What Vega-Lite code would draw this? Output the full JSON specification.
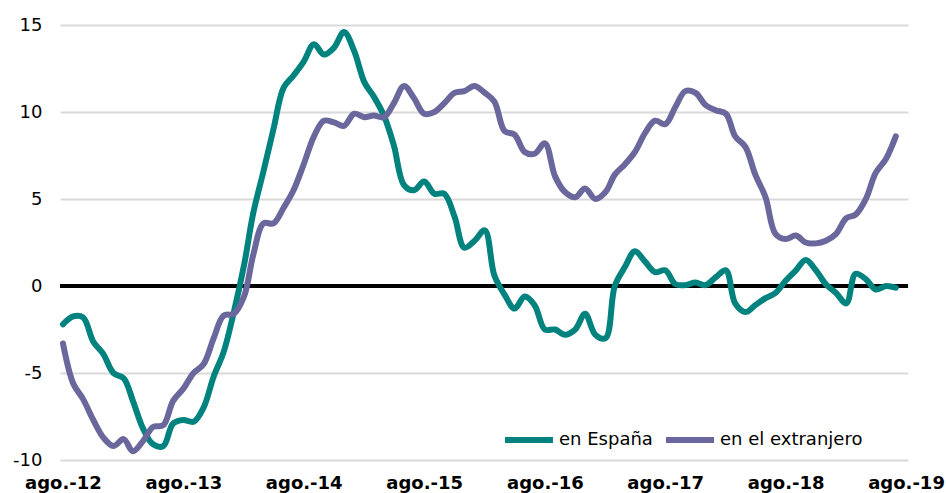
{
  "$schema": "https://vega.github.io/schema/vega-lite/v6.json",
  "width": 848,
  "height": 435,
  "autosize": "none",
  "padding": {"left": 60, "top": 25, "right": 38, "bottom": 33},
  "background": "white",
  "config": {"view": {"stroke": null}, "font": "DejaVu Sans"},
  "data": {"values": [
    {"date": "2012-08-01", "en España": -2.2, "en el extranjero": -3.3},
    {"date": "2012-09-01", "en España": -1.75, "en el extranjero": -5.6},
    {"date": "2012-10-01", "en España": -1.8, "en el extranjero": -6.5},
    {"date": "2012-11-01", "en España": -3.2, "en el extranjero": -7.7},
    {"date": "2012-12-01", "en España": -3.9, "en el extranjero": -8.7},
    {"date": "2013-01-01", "en España": -5.0, "en el extranjero": -9.2},
    {"date": "2013-02-01", "en España": -5.3, "en el extranjero": -8.8},
    {"date": "2013-03-01", "en España": -6.6, "en el extranjero": -9.5},
    {"date": "2013-04-01", "en España": -8.2, "en el extranjero": -8.9},
    {"date": "2013-05-01", "en España": -9.1, "en el extranjero": -8.1},
    {"date": "2013-06-01", "en España": -9.2, "en el extranjero": -8.0},
    {"date": "2013-07-01", "en España": -7.9, "en el extranjero": -6.6},
    {"date": "2013-08-01", "en España": -7.7, "en el extranjero": -5.9},
    {"date": "2013-09-01", "en España": -7.8, "en el extranjero": -5.0},
    {"date": "2013-10-01", "en España": -7.0, "en el extranjero": -4.5},
    {"date": "2013-11-01", "en España": -5.2, "en el extranjero": -3.0},
    {"date": "2013-12-01", "en España": -3.8, "en el extranjero": -1.7},
    {"date": "2014-01-01", "en España": -1.5, "en el extranjero": -1.6},
    {"date": "2014-02-01", "en España": 1.2, "en el extranjero": -0.6},
    {"date": "2014-03-01", "en España": 4.2, "en el extranjero": 1.8},
    {"date": "2014-04-01", "en España": 6.6, "en el extranjero": 3.6},
    {"date": "2014-05-01", "en España": 9.0, "en el extranjero": 3.6},
    {"date": "2014-06-01", "en España": 11.4, "en el extranjero": 4.5},
    {"date": "2014-07-01", "en España": 12.1, "en el extranjero": 5.5},
    {"date": "2014-08-01", "en España": 12.9, "en el extranjero": 7.0},
    {"date": "2014-09-01", "en España": 13.9, "en el extranjero": 8.6},
    {"date": "2014-10-01", "en España": 13.3, "en el extranjero": 9.5},
    {"date": "2014-11-01", "en España": 13.7, "en el extranjero": 9.4},
    {"date": "2014-12-01", "en España": 14.6, "en el extranjero": 9.2},
    {"date": "2015-01-01", "en España": 13.5, "en el extranjero": 9.9},
    {"date": "2015-02-01", "en España": 11.7, "en el extranjero": 9.7},
    {"date": "2015-03-01", "en España": 10.9, "en el extranjero": 9.8},
    {"date": "2015-04-01", "en España": 9.8, "en el extranjero": 9.7},
    {"date": "2015-05-01", "en España": 8.1, "en el extranjero": 10.5},
    {"date": "2015-06-01", "en España": 5.8, "en el extranjero": 11.5},
    {"date": "2015-07-01", "en España": 5.5, "en el extranjero": 10.8},
    {"date": "2015-08-01", "en España": 6.0, "en el extranjero": 9.9},
    {"date": "2015-09-01", "en España": 5.3, "en el extranjero": 10.0},
    {"date": "2015-10-01", "en España": 5.3, "en el extranjero": 10.5},
    {"date": "2015-11-01", "en España": 4.0, "en el extranjero": 11.1},
    {"date": "2015-12-01", "en España": 2.2, "en el extranjero": 11.2},
    {"date": "2016-01-01", "en España": 2.6, "en el extranjero": 11.5},
    {"date": "2016-02-01", "en España": 3.2, "en el extranjero": 11.1},
    {"date": "2016-03-01", "en España": 0.6, "en el extranjero": 10.6},
    {"date": "2016-04-01", "en España": -0.5, "en el extranjero": 8.9},
    {"date": "2016-05-01", "en España": -1.3, "en el extranjero": 8.7},
    {"date": "2016-06-01", "en España": -0.6, "en el extranjero": 7.7},
    {"date": "2016-07-01", "en España": -1.1, "en el extranjero": 7.6},
    {"date": "2016-08-01", "en España": -2.5, "en el extranjero": 8.2},
    {"date": "2016-09-01", "en España": -2.5, "en el extranjero": 6.3},
    {"date": "2016-10-01", "en España": -2.8, "en el extranjero": 5.4},
    {"date": "2016-11-01", "en España": -2.5, "en el extranjero": 5.1},
    {"date": "2016-12-01", "en España": -1.6, "en el extranjero": 5.6},
    {"date": "2017-01-01", "en España": -2.8, "en el extranjero": 5.0},
    {"date": "2017-02-01", "en España": -3.0, "en el extranjero": 5.4},
    {"date": "2017-03-01", "en España": 0.0, "en el extranjero": 6.4},
    {"date": "2017-04-01", "en España": 1.1, "en el extranjero": 7.0},
    {"date": "2017-05-01", "en España": 2.0, "en el extranjero": 7.7},
    {"date": "2017-06-01", "en España": 1.4, "en el extranjero": 8.8},
    {"date": "2017-07-01", "en España": 0.8, "en el extranjero": 9.5},
    {"date": "2017-08-01", "en España": 0.9, "en el extranjero": 9.3},
    {"date": "2017-09-01", "en España": 0.1, "en el extranjero": 10.3},
    {"date": "2017-10-01", "en España": 0.05, "en el extranjero": 11.2},
    {"date": "2017-11-01", "en España": 0.2, "en el extranjero": 11.1},
    {"date": "2017-12-01", "en España": 0.05, "en el extranjero": 10.4},
    {"date": "2018-01-01", "en España": 0.5, "en el extranjero": 10.1},
    {"date": "2018-02-01", "en España": 0.9, "en el extranjero": 9.9},
    {"date": "2018-03-01", "en España": -1.0, "en el extranjero": 8.6},
    {"date": "2018-04-01", "en España": -1.5, "en el extranjero": 8.0},
    {"date": "2018-05-01", "en España": -1.1, "en el extranjero": 6.4},
    {"date": "2018-06-01", "en España": -0.7, "en el extranjero": 5.1},
    {"date": "2018-07-01", "en España": -0.4, "en el extranjero": 3.0},
    {"date": "2018-08-01", "en España": 0.3, "en el extranjero": 2.7},
    {"date": "2018-09-01", "en España": 0.9, "en el extranjero": 2.9},
    {"date": "2018-10-01", "en España": 1.5, "en el extranjero": 2.5},
    {"date": "2018-11-01", "en España": 0.9, "en el extranjero": 2.45},
    {"date": "2018-12-01", "en España": 0.1, "en el extranjero": 2.6},
    {"date": "2019-01-01", "en España": -0.4, "en el extranjero": 3.0},
    {"date": "2019-02-01", "en España": -1.0, "en el extranjero": 3.9},
    {"date": "2019-03-01", "en España": 0.7, "en el extranjero": 4.1},
    {"date": "2019-04-01", "en España": 0.4, "en el extranjero": 5.0},
    {"date": "2019-05-01", "en España": -0.2, "en el extranjero": 6.5},
    {"date": "2019-06-01", "en España": 0.0, "en el extranjero": 7.3},
    {"date": "2019-07-01", "en España": -0.1, "en el extranjero": 8.6}
  ]},
  "transform": [{"fold": ["en España", "en el extranjero"], "as": ["serie", "v"]}],
  "layer": [
    {
      "mark": {"type": "rule", "color": "black", "strokeWidth": 4},
      "encoding": {"y": {"datum": 0, "type": "quantitative"}}
    },
    {
      "mark": {"type": "line", "strokeWidth": 6, "interpolate": "catmull-rom", "strokeCap": "round", "strokeJoin": "round"},
      "encoding": {
        "x": {
          "field": "date", "type": "temporal",
          "scale": {"type": "utc", "domain": [{"year": 2012, "month": 7, "date": 23, "utc": true}, {"year": 2019, "month": 8, "date": 7, "utc": true}]},
          "axis": {
            "values": [
              {"year": 2012, "month": 8, "date": 1, "utc": true},
              {"year": 2013, "month": 8, "date": 1, "utc": true},
              {"year": 2014, "month": 8, "date": 1, "utc": true},
              {"year": 2015, "month": 8, "date": 1, "utc": true},
              {"year": 2016, "month": 8, "date": 1, "utc": true},
              {"year": 2017, "month": 8, "date": 1, "utc": true},
              {"year": 2018, "month": 8, "date": 1, "utc": true},
              {"year": 2019, "month": 8, "date": 1, "utc": true}
            ],
            "labelExpr": "'ago.-' + utcFormat(datum.value, '%y')",
            "labelFontSize": 18, "labelFontWeight": "bold", "labelColor": "#000",
            "labelPadding": 14, "domain": false, "ticks": false, "grid": false, "title": null,
            "labelOverlap": false, "labelBound": false, "labelFlush": false
          }
        },
        "y": {
          "field": "v", "type": "quantitative",
          "scale": {"domain": [-10, 15], "nice": false, "zero": false},
          "axis": {
            "values": [-10, -5, 0, 5, 10, 15],
            "labelExpr": "datum.value < 0 ? '-' + abs(datum.value) : '' + datum.value",
            "grid": true, "gridColor": "#D9D9D9", "gridWidth": 2,
            "domain": false, "ticks": false, "title": null,
            "labelFontSize": 18, "labelColor": "#000", "labelPadding": 18
          }
        },
        "color": {
          "field": "serie", "type": "nominal",
          "scale": {"domain": ["en España", "en el extranjero"], "range": ["#00827F", "#69679C"]},
          "legend": {
            "orient": "none", "legendX": 442, "legendY": 388, "direction": "horizontal",
            "title": null, "symbolType": "stroke", "symbolSize": 2304, "symbolStrokeWidth": 6,
            "labelFontSize": 18, "labelOffset": 3, "columnPadding": 1, "padding": 0, "labelColor": "#000"
          }
        }
      }
    }
  ]
}
